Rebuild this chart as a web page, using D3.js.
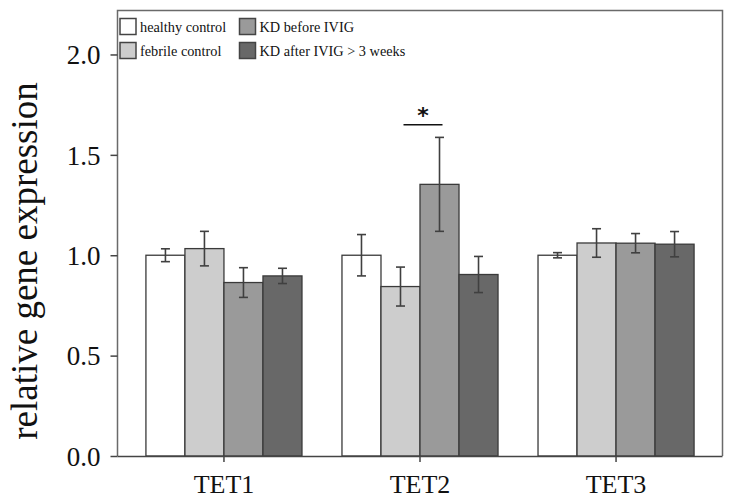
<!DOCTYPE html>
<html>
<head>
<meta charset="utf-8">
<script src="https://cdn.jsdelivr.net/npm/d3@7"></script>
<style>
  html, body { margin: 0; padding: 0; background: #fff; }
  svg { display: block; }
</style>
</head>
<body>
<svg id="chart" width="729" height="499"></svg>
<script>
const categories = ["TET1", "TET2", "TET3"];
const seriesNames = ["healthy control", "febrile control", "KD before IVIG", "KD after IVIG > 3 weeks"];
const seriesColors = ["#ffffff", "#cdcdcd", "#9a9a9a", "#686868"];
// values[series][category]
const healthyValues = [1.00, 1.00, 1.00];
const febrileValues = [1.033, 0.844, 1.061];
const kdBeforeValues = [0.864, 1.353, 1.060];
const kdAfterValues = [0.897, 0.904, 1.055];
const healthyErrors = [0.032, 0.103, 0.013];
const febrileErrors = [0.086, 0.097, 0.071];
const kdBeforeErrors = [0.074, 0.234, 0.048];
const kdAfterErrors = [0.038, 0.090, 0.063];
const yTicks = [0, 0.5, 1.0, 1.5, 2.0];
const yLabel = "relative gene expression";
const sigCategory = "TET2";
const sigFrom = 1, sigTo = 2, sigValue = 1.65;

const values = [healthyValues, febrileValues, kdBeforeValues, kdAfterValues];
const errors = [healthyErrors, febrileErrors, kdBeforeErrors, kdAfterErrors];

const serif = "'Liberation Serif', 'Times New Roman', serif";
const svg = d3.select("#chart");
const mLeft = 117.5, mRight = 722.5, mTop = 10.5, mBottom = 456;

const y = d3.scaleLinear().domain([0, 2.219]).range([mBottom, mTop]);
const x0 = d3.scaleBand().domain(categories).range([mLeft, mRight]).paddingInner(0.204).paddingOuter(0.145);
const x1 = d3.scaleBand().domain(d3.range(seriesNames.length)).range([0, x0.bandwidth()]).padding(0);

// frame
svg.append("path")
  .attr("d", `M${mLeft},${mBottom} V${mTop} H${mRight} V${mBottom}`)
  .attr("fill", "none").attr("stroke", "#6a6a6a").attr("stroke-width", 1.5);

// bars
const data = [];
categories.forEach((c, ci) => {
  seriesNames.forEach((s, si) => {
    data.push({ c, si, v: values[si][ci], e: errors[si][ci] });
  });
});

svg.append("g").selectAll("rect").data(data).join("rect")
  .attr("x", d => x0(d.c) + x1(d.si))
  .attr("y", d => y(d.v))
  .attr("width", x1.bandwidth())
  .attr("height", d => y(0) - y(d.v))
  .attr("fill", d => seriesColors[d.si])
  .attr("stroke", "#3a3a3a").attr("stroke-width", 1.3);

// error bars
const eg = svg.append("g").attr("stroke", "#404040").attr("stroke-width", 1.6);
data.forEach(d => {
  const cx = x0(d.c) + x1(d.si) + x1.bandwidth() / 2;
  const y1 = y(d.v + d.e), y2 = y(d.v - d.e);
  eg.append("line").attr("x1", cx).attr("x2", cx).attr("y1", y1).attr("y2", y2);
  eg.append("line").attr("x1", cx - 4.5).attr("x2", cx + 4.5).attr("y1", y1).attr("y2", y1);
  eg.append("line").attr("x1", cx - 4.5).attr("x2", cx + 4.5).attr("y1", y2).attr("y2", y2);
});

// x axis
const xAxis = svg.append("g").attr("transform", `translate(0,${mBottom})`)
  .attr("font-family", serif)
  .call(d3.axisBottom(x0).tickSize(6).tickSizeOuter(0));
xAxis.attr("font-family", serif);
xAxis.select(".domain").attr("d", `M${mLeft},0.5H${mRight}`).attr("stroke", "#444").attr("stroke-width", 1.5);
xAxis.selectAll(".tick line").attr("stroke", "#444").attr("stroke-width", 1.5);
xAxis.selectAll(".tick text")
  .attr("font-family", serif)
  .attr("font-size", 26).attr("fill", "#111").attr("dy", null).attr("y", 37);

// y axis
const yAxis = svg.append("g").attr("transform", `translate(${mLeft},0)`)
  .call(d3.axisLeft(y).tickValues(yTicks).tickFormat(d3.format(".1f")).tickSize(7).tickSizeOuter(0));
yAxis.attr("font-family", serif);
yAxis.select(".domain").remove();
yAxis.selectAll(".tick line").attr("stroke", "#444").attr("stroke-width", 1.5);
yAxis.selectAll(".tick text")
  .attr("font-family", serif)
  .attr("font-size", 27).attr("fill", "#111").attr("x", -17).attr("dy", "0.34em");

// y label
svg.append("text")
  .attr("transform", `translate(37,261) rotate(-90)`)
  .attr("text-anchor", "middle")
  .attr("font-family", serif)
  .attr("font-size", 37).attr("fill", "#111")
  .text(yLabel);

// significance
const sx1 = x0(sigCategory) + x1(sigFrom) + x1.bandwidth() / 2 + 3;
const sx2 = x0(sigCategory) + x1(sigTo) + x1.bandwidth() / 2 + 3;
svg.append("line").attr("x1", sx1).attr("x2", sx2).attr("y1", y(sigValue)).attr("y2", y(sigValue))
  .attr("stroke", "#111").attr("stroke-width", 1.6);
svg.append("text").attr("x", (sx1 + sx2) / 2).attr("y", y(sigValue) - 2)
  .attr("text-anchor", "middle").attr("font-family", "'DejaVu Sans', sans-serif")
  .attr("font-size", 22).attr("font-weight", "bold").attr("fill", "#111").text("*");

// legend
const legendPos = [[120, 18.5], [120, 42.5], [239.5, 18.5], [239.5, 42.5]];
const lg = svg.append("g");
seriesNames.forEach((s, i) => {
  const [lx, ly] = legendPos[i];
  lg.append("rect").attr("x", lx).attr("y", ly).attr("width", 16).attr("height", 16)
    .attr("fill", seriesColors[i]).attr("stroke", "#444").attr("stroke-width", 1.5);
  lg.append("text").attr("x", lx + 20).attr("y", ly + 13)
    .attr("font-family", serif)
    .attr("font-size", 14.3).attr("fill", "#111").text(s);
});
</script>
</body>
</html>
